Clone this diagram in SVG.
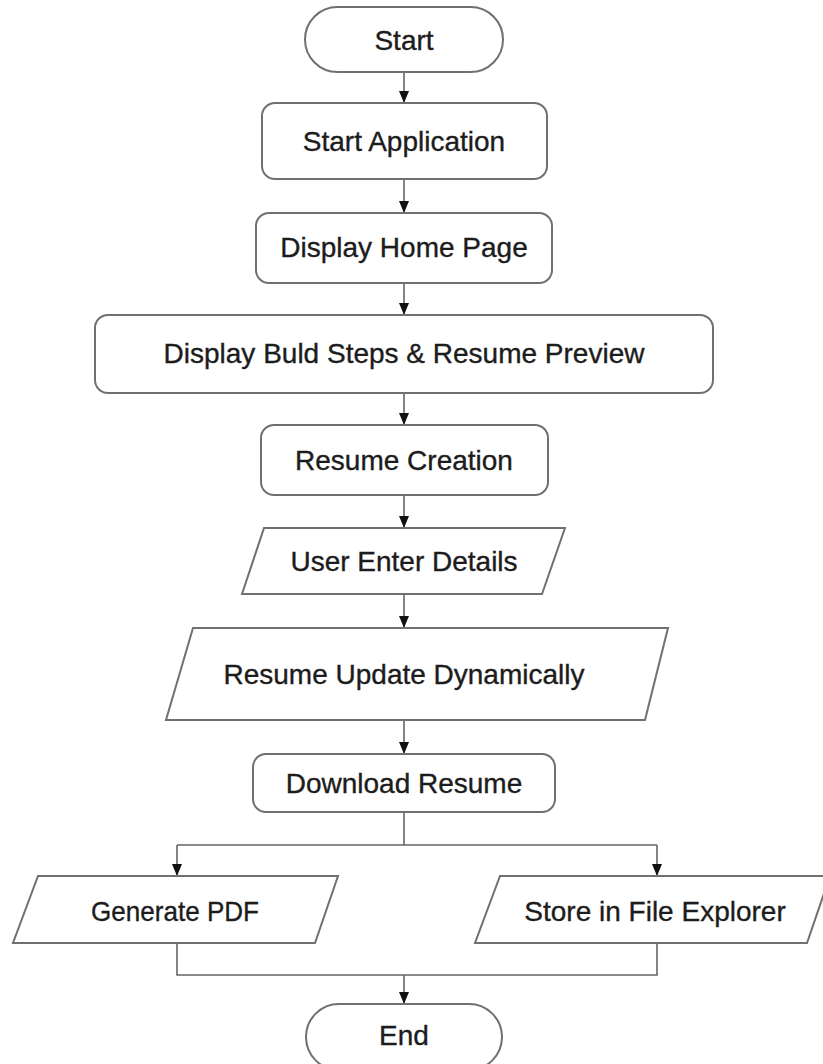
<svg xmlns="http://www.w3.org/2000/svg" width="823" height="1064" viewBox="0 0 823 1064">
<style>
.shape{fill:#ffffff;stroke:#707070;stroke-width:2}
.lbl{font-family:"Liberation Sans",Arial,sans-serif;font-size:28px;fill:#1c1c1c;text-anchor:middle;stroke:#1c1c1c;stroke-width:0.35}
.conn{fill:none;stroke:#666666;stroke-width:1.6}
</style>
<defs>
<marker id="arr" viewBox="0 0 10 12" refX="5" refY="12" markerWidth="10" markerHeight="12" markerUnits="userSpaceOnUse" orient="0">
<path d="M0,0 L10,0 L5,12 Z" fill="#111"/>
</marker>
</defs>
<rect width="823" height="1064" fill="#ffffff"/>
<g id="connectors">
<line class="conn" x1="404" y1="72" x2="404" y2="103" marker-end="url(#arr)"/>
<line class="conn" x1="404" y1="179" x2="404" y2="213" marker-end="url(#arr)"/>
<line class="conn" x1="404" y1="283" x2="404" y2="315" marker-end="url(#arr)"/>
<line class="conn" x1="404" y1="393" x2="404" y2="425" marker-end="url(#arr)"/>
<line class="conn" x1="404" y1="495" x2="404" y2="528" marker-end="url(#arr)"/>
<line class="conn" x1="404" y1="594" x2="404" y2="628" marker-end="url(#arr)"/>
<line class="conn" x1="404" y1="720" x2="404" y2="754" marker-end="url(#arr)"/>
<polyline class="conn" points="404,812 404,845"/>
<line class="conn" x1="177" y1="845" x2="657" y2="845"/>
<line class="conn" x1="177" y1="845" x2="177" y2="876" marker-end="url(#arr)"/>
<line class="conn" x1="657" y1="845" x2="657" y2="876" marker-end="url(#arr)"/>
<polyline class="conn" points="177,943 177,975 657,975 657,943"/>
<line class="conn" x1="404" y1="975" x2="404" y2="1004" marker-end="url(#arr)"/>
</g>
<g id="start">
<rect class="shape" x="305" y="7" width="198" height="65" rx="32.5"/>
<text class="lbl" x="404" y="50">Start</text>
</g>
<g id="start-application">
<rect class="shape" x="262" y="103" width="285" height="76" rx="13"/>
<text class="lbl" x="404" y="151">Start Application</text>
</g>
<g id="display-home-page">
<rect class="shape" x="256" y="213" width="296" height="70" rx="13"/>
<text class="lbl" x="404" y="257">Display Home Page</text>
</g>
<g id="display-build-steps">
<rect class="shape" x="95" y="315" width="618" height="78" rx="13"/>
<text class="lbl" x="404" y="363">Display Buld Steps &amp; Resume Preview</text>
</g>
<g id="resume-creation">
<rect class="shape" x="261" y="425" width="287" height="70" rx="13"/>
<text class="lbl" x="404" y="470">Resume Creation</text>
</g>
<g id="user-enter-details">
<polygon class="shape" points="264,528 565,528 542,594 242,594"/>
<text class="lbl" x="404" y="571">User Enter Details</text>
</g>
<g id="resume-update">
<polygon class="shape" points="193,628 668,628 645,720 166,720"/>
<text class="lbl" x="404" y="684">Resume Update Dynamically</text>
</g>
<g id="download-resume">
<rect class="shape" x="253" y="754" width="302" height="58" rx="13"/>
<text class="lbl" x="404" y="793">Download Resume</text>
</g>
<g id="generate-pdf">
<polygon class="shape" points="38,876 338,876 315,943 13,943"/>
<text class="lbl" x="175" y="921" textLength="168" lengthAdjust="spacingAndGlyphs">Generate PDF</text>
</g>
<g id="store-file-explorer">
<polygon class="shape" points="500,876 830,876 807,943 475,943"/>
<text class="lbl" x="655" y="921">Store in File Explorer</text>
</g>
<g id="end">
<rect class="shape" x="306" y="1004" width="196" height="66" rx="33"/>
<text class="lbl" x="404" y="1045">End</text>
</g>
</svg>
